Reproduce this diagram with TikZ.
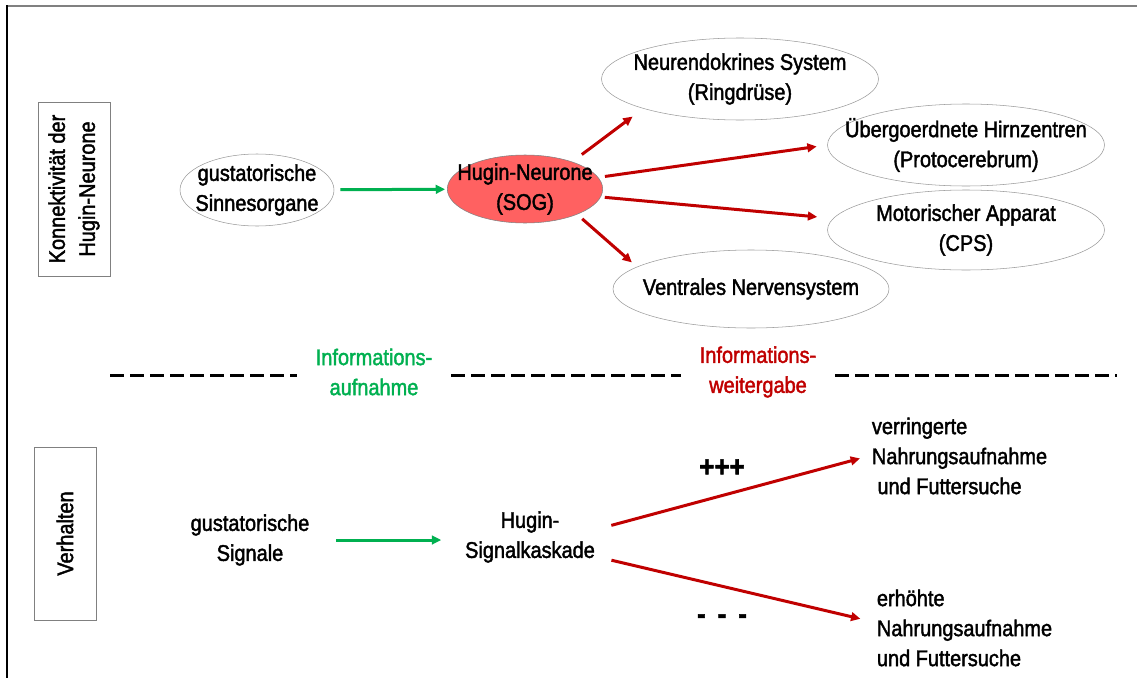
\documentclass[tikz,border=0pt]{standalone}
\usepackage{fontspec}
\setmainfont{Liberation Sans}[FakeStretch=0.88,FakeBold=1.8]
\usetikzlibrary{shapes.geometric,arrows.meta}
\definecolor{infogreen}{RGB}{0,176,80}
\definecolor{infored}{RGB}{192,0,0}
\definecolor{huginred}{RGB}{255,97,97}

\begin{document}
\begin{tikzpicture}[x=0.75pt,y=-0.75pt,
    every node/.style={font=\fontsize{17}{22.5}\selectfont,align=center},
    organ/.style={ellipse,draw=gray!80,inner sep=-20pt},
    sidebox/.style={draw=gray,rotate=90,inner sep=0pt},
    plain/.style={inner sep=2pt},
    sign/.style={font=\fontsize{22}{22}\selectfont\bfseries},
    greenarrow/.style={infogreen,line width=2.25pt,-{Triangle[length=7pt,width=6.5pt]}},
    redarrow/.style={infored,line width=2.25pt,-{Triangle[length=7pt,width=6.5pt]}},
    divider/.style={line width=2.25pt,dash pattern=on 10.5pt off 4.5pt}]
    \useasboundingbox (0,0) rectangle (1137,678);
    \draw[gray,line width=1.5pt] (7,5.5) -- (1137,5.5);
    \draw[line width=1.2pt] (7,5) -- (7,678);

    % Konnektivitaet
    \node[sidebox,minimum width=130.5pt,minimum height=54pt] (konn) at (74,189) {Konnektivität der\\Hugin-Neurone};
    \node[organ,minimum width=115.5pt,minimum height=54pt] (sinne) at (257,190) {gustatorische\\Sinnesorgane};
    \node[organ,fill=huginred,draw=gray,minimum width=116.5pt,minimum height=51pt] (hugin) at (525,189) {Hugin-Neurone\\(SOG)};
    \node[organ,minimum width=207.75pt,minimum height=61.5pt] (neuro) at (740,79) {Neurendokrines System\\(Ringdrüse)};
    \node[organ,minimum width=207.75pt,minimum height=61.5pt] (hirn) at (966,145) {Übergoerdnete Hirnzentren\\(Protocerebrum)};
    \node[organ,minimum width=207.75pt,minimum height=60pt] (motor) at (966,230) {Motorischer Apparat\\(CPS)};
    \node[organ,minimum width=207pt,minimum height=58.5pt] (vns) at (751,289) {Ventrales Nervensystem};

    \draw[greenarrow,shorten <=4.5pt,shorten >=1.5pt] (sinne) -- (hugin);
    \draw[redarrow,shorten <=9pt,shorten >=10pt] (hugin.30) -- (neuro.197);
    \draw[redarrow,shorten <=5pt,shorten >=8pt] (hugin.9) -- (hirn.180);
    \draw[redarrow,shorten <=3pt,shorten >=12pt] (hugin.-6) -- (motor.175);
    \draw[redarrow,shorten <=5pt,shorten >=5pt] (hugin.-26) -- (vns.169);

    % Trennlinie
    \coordinate (lineL) at (110,375);
    \coordinate (lineR) at (1117,375);
    \node[text=infogreen,inner xsep=14pt] (aufnahme) at (374,372) {Informations-\\aufnahme};
    \node[text=infored,inner xsep=14pt] (weitergabe) at (758,372) {Informations-\\weitergabe};
    \draw[divider] (lineL) -- (aufnahme.west |- lineL);
    \draw[divider] (aufnahme.east |- lineL) -- (weitergabe.west |- lineL);
    \draw[divider] (weitergabe.east |- lineL) -- (lineR);

    % Verhalten
    \node[sidebox,minimum width=129.75pt,minimum height=46.5pt] (verh) at (65,533.5) {Verhalten};
    \node[plain] (signale) at (250,540) {gustatorische\\Signale};
    \node[plain] (kaskade) at (530,537) {Hugin-\\Signalkaskade};
    \node[plain,anchor=west,align=left] (weniger) at (869,456) {verringerte\\Nahrungsaufnahme\\\ und Futtersuche};
    \node[plain,anchor=west,align=left] (mehr) at (874,628) {erhöhte\\Nahrungsaufnahme\\und Futtersuche};
    \node[sign] (plus) at (722,468) {+++};
    \node[sign] (minus) at (722,619) {-\ \,-\ \,-};

    \draw[greenarrow,shorten <=18pt,shorten >=15.75pt] (signale.east) -- (kaskade.west |- signale.east);
    \draw[redarrow,shorten <=10.5pt,shorten >=7pt] ([yshift=6pt]kaskade.east) -- (weniger.west);
    \draw[redarrow,shorten <=10.5pt,shorten >=10.5pt] ([yshift=-15pt]kaskade.east) -- ([yshift=4.5pt]mehr.west);
\end{tikzpicture}
\end{document}
